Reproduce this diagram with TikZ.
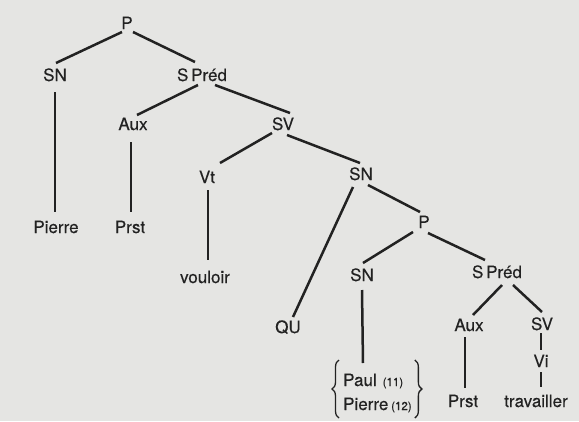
\documentclass[tikz,border=0pt]{standalone}
\usepackage{fontspec}
\setmainfont{TeX Gyre Heros}
\newfontfamily\labfont{TeX Gyre Heros}[FakeBold=0.3]
\usetikzlibrary{calc,decorations.pathreplacing}
\definecolor{paper}{RGB}{229,229,227}
\definecolor{ink}{RGB}{34,34,34}
\newcommand\tedge[6]{\draw[edge] ([shift={(#2,#3)}]#1.base) -- ([shift={(#5,#6)}]#4.base);}
\begin{document}
\begin{tikzpicture}[x=1pt,y=-1pt,
  lab/.style={anchor=base,inner sep=0pt,text=ink,font=\labfont\fontsize{17}{20}\selectfont},
  edge/.style={draw=ink,line width=2.5pt},
  bracket/.style={draw=ink,line width=1.3pt,decorate,decoration={brace,amplitude=7pt}}]
\fill[paper] (0,0) rectangle (579,421);
\useasboundingbox (0,0) rectangle (579,421);
% nodes
\node[lab] (P1) at (127,29) {P};
\node[lab] (SN1) at (55,81) {SN};
\node[lab] (SP1) at (202,81) {S\,Préd};
\node[lab] (Aux1) at (133,130) {Aux};
\node[lab] (SV1) at (283,130) {SV};
\node[lab] (Vt) at (207,183) {Vt};
\node[lab] (SN2) at (361,180) {SN};
\node[lab] (Pierre1) at (56,233) {Pierre};
\node[lab] (Prst1) at (130,233) {Prst};
\node[lab] (vouloir) at (205,283) {vouloir};
\node[lab] (QU) at (288,333) {QU};
\node[lab] (P2) at (424,228) {P};
\node[lab] (SN3) at (362,281) {SN};
\node[lab] (SP2) at (497,278) {S\,Préd};
\node[lab] (Aux2) at (469,331) {Aux};
\node[lab] (SV2) at (542,330) {SV};
\node[lab] (Vi) at (541,367) {Vi};
\node[lab] (Prst2) at (463,407) {Prst};
\node[lab] (trav) at (536,407) {travailler};
\node[lab,anchor=base west] (Paul) at (343,386) {Paul\hspace{6pt}{\labfont\fontsize{11.5}{12}\selectfont(11)}};
\node[lab,anchor=base west] (Pierre2) at (343,410) {Pierre\,{\labfont\fontsize{11.5}{12}\selectfont(12)}};
% braces
\draw[bracket] ($(Pierre2.base west)+(-4,8)$) -- ($(Paul.base west)+(-4,-26)$);
\draw[bracket] ($(Pierre2.east |- Paul.base)+(3,-26)$) -- ($(Pierre2.base east)+(3,8)$);
% connectors
\tedge{P1}{-5}{3}{SN1}{1}{-18}
\tedge{P1}{6}{3}{SP1}{-7}{-19}
\tedge{SN1}{0}{11}{Pierre1}{-1}{-21}
\tedge{SP1}{-4}{4}{Aux1}{4}{-15}
\tedge{SP1}{13}{4}{SV1}{7}{-17}
\tedge{Aux1}{-2}{12}{Prst1}{1}{-21}
\tedge{SV1}{-11}{3}{Vt}{13}{-20}
\tedge{SV1}{4}{5}{SN2}{-1}{-17}
\tedge{Vt}{1}{7}{vouloir}{3}{-23}
\tedge{SN2}{-8}{7}{QU}{5}{-16}
\tedge{SN2}{7}{5}{P2}{-4}{-16}
\tedge{P2}{-11}{4}{SN3}{1}{-18}
\tedge{P2}{4}{5}{SP2}{-12}{-18}
\draw[edge] ([shift={(0,9)}]SN3.base) -- ([shift={(20,-23)}]Paul.base west);
\tedge{SP2}{5}{7}{Aux2}{4}{-16}
\tedge{SP2}{16}{7}{SV2}{0}{-18}
\tedge{Aux2}{-4}{6}{Prst2}{2}{-19}
\tedge{SV2}{-1}{3}{Vi}{0}{-17}
\tedge{Vi}{0}{5}{trav}{5}{-20}
\end{tikzpicture}
\end{document}
